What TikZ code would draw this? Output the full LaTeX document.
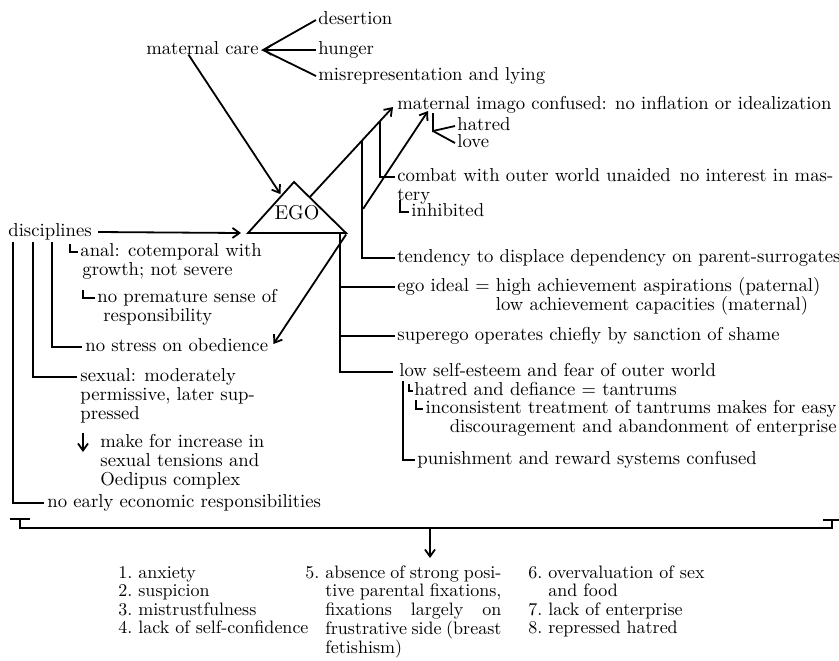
\documentclass[tikz,border=0pt]{standalone}
\usepackage{fontspec}
\setmainfont{lmroman10-regular}[Extension=.otf, BoldFont=lmroman10-bold, ItalicFont=lmroman10-italic]
\usepackage{tikz}
\usetikzlibrary{arrows.meta, calc}

\newcommand{\txtlines}[1]{\begin{tabular}[t]{@{}l@{}}#1\end{tabular}}

\begin{document}
\begin{tikzpicture}[
    x=0.5pt, y=-0.5pt,
    every node/.style={font=\fontsize{9.35}{9.5}\selectfont},
    txt/.style={anchor=base west, inner sep=0pt},
    listtxt/.style={txt, font=\fontsize{9}{9.3}\selectfont},
    ln/.style={line width=0.9pt},
    arr/.style={ln, -{Straight Barb[length=3.5pt, width=5pt]}}
  ]
  \useasboundingbox (0,0) rectangle (839,660);
  \fill[white] (0,0) rectangle (839,660);

  % maternal care and its three branches
  \node[txt, anchor=base east] (mcare) at (259,54) {maternal care};
  \node[txt] (desert) at (318,24) {desertion};
  \node[txt] (hunger) at (318,54) {hunger};
  \node[txt] (misrep) at (318,80) {misrepresentation and lying};
  \coordinate (mc) at ([shift={(2pt,2pt)}]mcare.base east);
  \draw[ln] ([shift={(-1pt,2pt)}]desert.base west) -- (mc) -- ([shift={(-1pt,2pt)}]misrep.base west);
  \draw[arr] ([shift={(-1pt,2pt)}]hunger.base west) -- (mc);

  % the EGO triangle
  \coordinate (egoT) at (294,182);
  \coordinate (egoA) at (248,233);
  \coordinate (egoB) at (346,233);
  \draw[ln, line join=miter] (egoA) -- (egoT) -- (egoB) -- cycle;
  \node[font=\fontsize{10}{12}\selectfont] (ego) at (297,213) {EGO};
  \draw[arr, shorten >=1pt] ([xshift=-7pt]mcare.south) -- ($(egoT)!0.27!(egoA)$);

  % left column
  \node[txt] (disc) at (8,236) {disciplines};
  \node[txt] (anal) at (80,256) {\txtlines{anal: cotemporal with\\\hspace*{1pt}growth; not severe}};
  \node[txt] (prem) at (97,302) {\txtlines{no premature sense of\\\hspace*{3pt}responsibility}};
  \node[txt] (nostress) at (85,351) {no stress on obedience};
  \node[txt] (sexual) at (80,381) {\txtlines{sexual: moderately\\permissive, later sup-\\pressed}};
  \node[txt] (incr) at (100,447) {\txtlines{make for increase in\\sexual tensions and\\Oedipus complex}};
  \node[txt] (noearly) at (47,507) {no early economic responsibilities};

  \draw[arr] ([shift={(3pt,2pt)}]disc.base east) -- ([xshift=-3.5pt]egoA);
  \draw[ln] ([shift={(2.5pt,-1pt)}]disc.south west) |- ([shift={(-1.5pt,2pt)}]noearly.base west);
  \draw[ln] ([shift={(12.5pt,-1pt)}]disc.south west) |- ([shift={(-1.5pt,2pt)}]sexual.base west);
  \draw[ln] ([shift={(22pt,-1pt)}]disc.south west) |- ([shift={(-1.5pt,2pt)}]nostress.base west);
  \draw[ln] ([shift={(-5pt,6pt)}]anal.base west) |- ([shift={(-1pt,2pt)}]anal.base west);
  \draw[ln] ([shift={(-7pt,6pt)}]prem.base west) |- ([shift={(-1pt,2pt)}]prem.base west);
  \draw[arr] ([shift={(-8.5pt,7pt)}]incr.base west) -- ([shift={(-8.5pt,-2.5pt)}]incr.base west);

  % right column
  \node[txt] (imago) at (397,109) {maternal imago confused: no inflation or idealization};
  \node[txt] (hatred) at (457,130) {hatred};
  \node[txt] (love) at (457,147) {love};
  \node[txt] (combat) at (397,181) {\txtlines{combat with outer world unaided\hspace{4.5pt}no interest in mas-\\tery}};
  \node[txt] (inhib) at (411,216) {inhibited};
  \node[txt] (tend) at (397,262) {tendency to displace dependency on parent-surrogates};
  \node[txt] (egoideal) at (397,291) {ego ideal $=$ \txtlines{high achievement aspirations (paternal)\\low achievement capacities (maternal)}};
  \node[txt] (superego) at (397,340) {superego operates chiefly by sanction of shame};
  \node[txt] (lowse) at (399,376) {low self-esteem and fear of outer world};
  \node[txt] (hatdef) at (414,395) {hatred and defiance $=$ tantrums};
  \node[txt, anchor=base east] (incons) at (837,413) {\begin{tabular}[t]{@{}r@{}}inconsistent treatment of tantrums makes for easy\\discouragement and abandonment of enterprise\end{tabular}};
  \node[txt] (punish) at (417,464) {punishment and reward systems confused};

  \coordinate (e1) at ($(egoT)!0.3!(egoB)$);
  \coordinate (e2) at ([shift={(-2pt,1pt)}]imago.base west);
  \draw[arr] (e1) -- (e2);
  \draw[ln] ($(e1)!0.844!(e2)$) |- ([shift={(-1pt,2pt)}]combat.base west);
  \draw[ln] ($(e1)!0.628!(e2)$) |- ([shift={(-1pt,2pt)}]tend.base west);
  \coordinate (v3) at ($(egoA)!0.94!(egoB)$);
  \draw[ln] (v3) |- ([shift={(-1pt,2pt)}]egoideal.base west);
  \draw[ln] (v3) |- ([shift={(-1pt,2pt)}]superego.base west);
  \draw[ln] (v3) |- ([shift={(-3pt,2pt)}]lowse.base west);

  % long two-headed line, broken where it crosses
  \coordinate (s1) at ([shift={(2.5pt,3.5pt)}]nostress.base east);
  \coordinate (s2) at ([shift={(15.5pt,-1pt)}]imago.base west);
  \draw[arr] ($(s1)!0.58!(s2)$) -- (s2);
  \draw[arr] ($(s1)!0.47!(s2)$) -- (s1);

  \coordinate (hl) at ([shift={(18pt,-11pt)}]imago.base west);
  \draw[ln] ([shift={(18pt,-2pt)}]imago.base west) -- (hl) -- ([shift={(-1pt,2pt)}]hatred.base west);
  \draw[ln] (hl) -- ([shift={(-1pt,2pt)}]love.base west);
  \draw[ln] ([shift={(-5.5pt,8pt)}]inhib.base west) |- ([shift={(-1pt,2pt)}]inhib.base west);
  \draw[ln] ([shift={(-2.5pt,5.5pt)}]hatdef.base west) |- ([shift={(-0.5pt,2pt)}]hatdef.base west);
  \draw[ln] ([shift={(-4.5pt,6.5pt)}]incons.base west) |- ([shift={(-1pt,2pt)}]incons.base west);
  \draw[ln] ([shift={(2pt,-2.5pt)}]lowse.base west) |- ([shift={(-1pt,2pt)}]punish.base west);

  % bottom bracket and results
  \coordinate (bL) at (20,528);
  \coordinate (bR) at (832,528);
  \coordinate (bD) at (430,558);
  \draw[ln] (10,519) -- (30,519);
  \draw[ln] (20,519) -- (bL) -- (bR) -- (832,520);
  \draw[ln] (823,520) -- (839,520);
  \draw[arr] (bL -| bD) -- (bD);

  \node[listtxt] (list1) at (118,578) {\begin{tabular}[t]{@{}l@{\ }l@{}}1. & anxiety\\2. & suspicion\\3. & mistrustfulness\\4. & lack of self-confidence\end{tabular}};
  \node[listtxt] (list5) at (305,578) {\begin{tabular}[t]{@{}l@{\ }l@{}}5. & \makebox[88pt][s]{absence of strong posi-}\\ & \makebox[88pt][s]{tive parental fixations,}\\ & \makebox[88pt][s]{fixations largely on}\\ & \makebox[88pt][s]{frustrative side (breast}\\ & fetishism)\end{tabular}};
  \node[listtxt] (list6) at (528,578) {\begin{tabular}[t]{@{}l@{\ }l@{}}6. & overvaluation of sex\\ & and food\\7. & lack of enterprise\\8. & repressed hatred\end{tabular}};
\end{tikzpicture}
\end{document}
